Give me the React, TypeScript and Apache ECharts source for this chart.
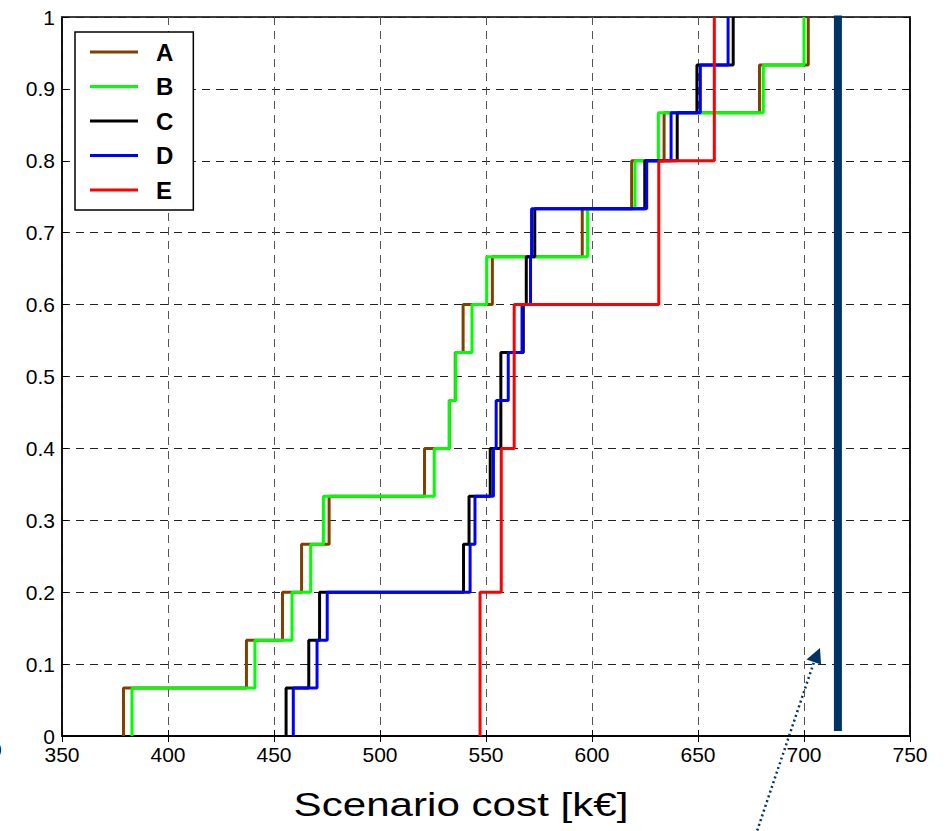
import React, { useEffect, useRef } from 'react';
import * as echarts from 'echarts';

const seriesNames = ['A', 'B', 'C', 'D', 'E'];
const seriesColors = ['#804000', '#00ff00', '#000000', '#0000ff', '#ff0000'];

// sorted scenario costs [k€] of each curve (15 scenarios, empirical CDF)
const costsA = [379, 437, 454, 463, 476, 521, 532.7, 535.5, 539.2, 553, 595.4, 618.7, 634, 679, 702];
const costsB = [383, 441, 458.5, 467.3, 473.3, 525.6, 532.7, 535.7, 543.4, 550.3, 597.9, 620.3, 631.3, 680.8, 700];
const costsC = [455.7, 466.4, 471.5, 539.4, 542, 552, 557, 557, 567.6, 569, 573, 624.9, 640.2, 649.5, 666.6];
const costsD = [459.1, 470.3, 475.1, 542.5, 544.8, 553.5, 554.8, 560.5, 567, 571, 571.5, 625.8, 637.3, 651.1, 664.2];
const costsE = [547.2, 547.2, 547.2, 557.2, 557.2, 557.2, 563.3, 563.3, 563.3, 631.5, 631.5, 631.5, 657.7, 657.7, 657.7];
const allCosts = [costsA, costsB, costsC, costsD, costsE];

const thresholdCost = 716;
const thresholdRange = [0.007, 1.002];
const xTitle = 'Scenario cost [k€]';

const FONT = '"Liberation Sans", Arial, Helvetica, sans-serif';

function cdfPoints(vals: number[]): number[][] {
  const n = vals.length;
  const pts: number[][] = [];
  vals.forEach((v, i) => {
    pts.push([v, i / n]);
    pts.push([v, (i + 1) / n]);
  });
  return pts;
}

export default function App() {
  const ref = useRef<HTMLDivElement>(null);
  useEffect(() => {
    if (!ref.current) return;
    const chart = echarts.init(ref.current, null, { renderer: 'svg' });
    const axisLabelStyle = { fontFamily: FONT, fontSize: 21, color: '#000' };
    const option: any = {
      animation: false,
      backgroundColor: '#fff',
      grid: { left: 62, right: 41, top: 17, bottom: 95, show: true, borderColor: '#000', borderWidth: 1.5, containLabel: false },
      xAxis: [
        {
          type: 'value', min: 350, max: 750, interval: 50,
          axisLine: { show: true, lineStyle: { color: '#000', width: 1.5 } },
          axisTick: { show: true, inside: true, length: 6, lineStyle: { color: '#000' } },
          axisLabel: { ...axisLabelStyle, margin: 8 },
          splitLine: { show: true, lineStyle: { color: '#555', type: [8, 6], width: 1 } },
        },
        {
          type: 'value', min: 350, max: 750, interval: 50, position: 'top',
          axisLine: { show: true, lineStyle: { color: '#000', width: 1.5 } },
          axisTick: { show: true, inside: true, length: 6, lineStyle: { color: '#000' } },
          axisLabel: { show: false }, splitLine: { show: false },
        },
      ],
      yAxis: [
        {
          type: 'value', min: 0, max: 1, interval: 0.1,
          axisLine: { show: true, lineStyle: { color: '#000', width: 1.5 } },
          axisTick: { show: true, inside: true, length: 6, lineStyle: { color: '#000' } },
          axisLabel: { ...axisLabelStyle, margin: 7 },
          splitLine: { show: true, lineStyle: { color: '#222', type: [8, 6], width: 1 } },
        },
        {
          type: 'value', min: 0, max: 1, interval: 0.1, position: 'right',
          axisLine: { show: true, lineStyle: { color: '#000', width: 1.5 } },
          axisTick: { show: true, inside: true, length: 6, lineStyle: { color: '#000' } },
          axisLabel: { show: false }, splitLine: { show: false },
        },
      ],
      legend: {
        data: seriesNames,
        orient: 'vertical', left: 75, top: 32,
        icon: 'rect', itemWidth: 48, itemHeight: 3, itemGap: 10.5,
        padding: [8, 20, 8, 15],
        borderColor: '#000', borderWidth: 1.5, backgroundColor: '#fff',
        selectedMode: false,
        textStyle: { fontFamily: FONT, fontSize: 24, fontWeight: 'bold', color: '#000', lineHeight: 24, padding: [0, 0, 0, 13] },
      },
      series: [
        ...seriesNames.map((name, i) => ({
          name, type: 'line', data: cdfPoints(allCosts[i]),
          showSymbol: false, symbol: 'none', clip: false,
          color: seriesColors[i],
          lineStyle: { color: seriesColors[i], width: 3 },
          z: 3 + i,
        })),
        {
          name: 'threshold', type: 'line',
          data: [[thresholdCost, thresholdRange[0]], [thresholdCost, thresholdRange[1]]],
          showSymbol: false, symbol: 'none', clip: false,
          lineStyle: { color: '#003366', width: 8, cap: 'butt' },
          z: 10,
        },
      ],
      graphic: [
        {
          type: 'text', x: 461, y: 804, scaleX: 1.24,
          style: { text: xTitle, fontFamily: FONT, fontSize: 34, fill: '#000', textAlign: 'center', textVerticalAlign: 'middle' },
        },
        {
          type: 'line', shape: { x1: 754, y1: 840, x2: 814, y2: 662 },
          style: { stroke: '#003366', lineWidth: 2.5, lineDash: [2, 3] },
        },
        {
          type: 'polygon', shape: { points: [[820, 648], [806.5, 659.5], [821, 664.5]] },
          style: { fill: '#003366' },
        },
        {
          type: 'text', x: -10, y: 749,
          style: { text: '0', fontFamily: FONT, fontSize: 21, fill: '#000', textAlign: 'left', textVerticalAlign: 'middle' },
        },
      ],
    };
    chart.setOption(option);
    return () => chart.dispose();
  }, []);
  return <div ref={ref} style={{ position: 'fixed', left: 0, top: 0, width: 951, height: 831, background: '#fff' }} />;
}
